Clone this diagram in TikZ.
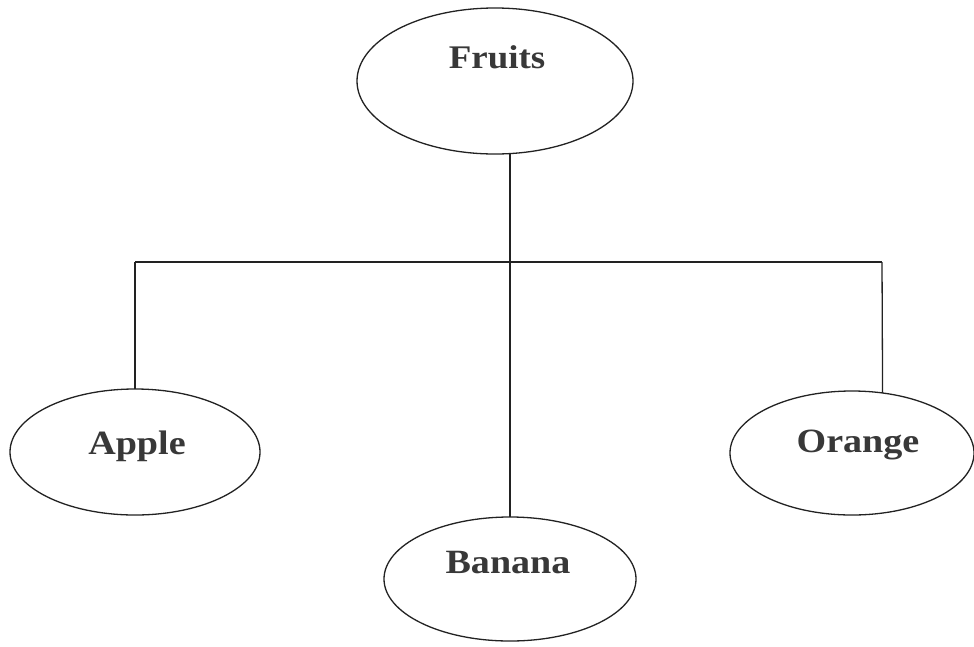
\documentclass[tikz,border=0pt]{standalone}
\usepackage{fontspec}
\setmainfont{Liberation Serif}[FakeStretch=1.12]
\usetikzlibrary{shapes.geometric}
\definecolor{ink}{HTML}{222222}
\definecolor{txt}{HTML}{383838}
\tikzset{
  oval/.style={draw=ink, line width=1.3pt, ellipse, inner sep=0pt, outer sep=0pt},
  lbl/.style={anchor=base, inner sep=0pt, text=txt, font=\fontsize{34}{40}\selectfont\bfseries},
  wire/.style={draw=ink, line width=1.3pt}
}
\begin{document}
\begin{tikzpicture}[x=1pt,y=-1pt]
\useasboundingbox (0,0) rectangle (974,646);
\fill[white] (0,0) rectangle (974,646);
% ellipses
\node[oval, minimum width=276pt, minimum height=146pt] (fruits) at (495,81) {};
\node[oval, minimum width=250pt, minimum height=126pt] (apple) at (135,452) {};
\node[oval, minimum width=252pt, minimum height=124pt] (banana) at (510,579) {};
\node[oval, minimum width=244pt, minimum height=124pt] (orange) at (852,453) {};
% labels
\node[lbl, font=\fontsize{33}{40}\selectfont\bfseries] (fruitsT) at (497,68) {Fruits};
\node[lbl] (appleT) at (137,454) {Apple};
\node[lbl] (bananaT) at (508,573) {Banana};
\node[lbl] (orangeT) at (858,452) {Orange};
% connectors
\coordinate (hub) at (510,262);
\coordinate (lft) at (135,262);
\coordinate (rgt) at (882,262);
\draw[wire] (fruits.south -| hub) -- (hub);
\draw[wire] (lft) -- (rgt);
\draw[wire] (lft) -- (apple.north);
\draw[wire] (hub) -- (banana.north);
\draw[wire] (rgt) -- (orange.63.5);
\end{tikzpicture}
\end{document}
